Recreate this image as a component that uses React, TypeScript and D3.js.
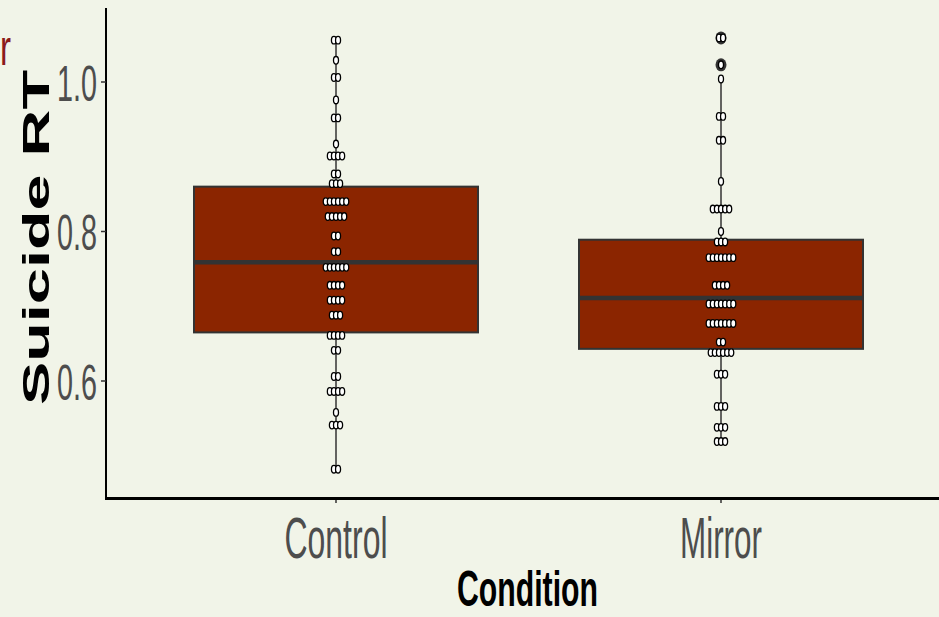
import React from "react";
import * as d3 from "d3";

const categories = ["Control", "Mirror"];
// dot rows: value and count
const controlRowValues = [1.056, 1.029, 1.006, 0.976, 0.952, 0.917, 0.901, 0.877, 0.864, 0.84, 0.82, 0.794, 0.773, 0.752, 0.728, 0.708, 0.688, 0.661, 0.641, 0.606, 0.586, 0.558, 0.541, 0.482];
const controlRowCounts = [2, 1, 2, 1, 2, 1, 4, 2, 3, 6, 5, 2, 2, 6, 4, 4, 3, 4, 2, 2, 4, 1, 3, 2];
const mirrorRowValues = [1.059, 1.023, 1.004, 0.954, 0.922, 0.867, 0.83, 0.8, 0.786, 0.765, 0.728, 0.703, 0.677, 0.652, 0.638, 0.609, 0.566, 0.538, 0.519];
const mirrorRowCounts = [2, 1, 1, 2, 2, 1, 5, 1, 3, 7, 4, 7, 7, 2, 6, 3, 3, 3, 3];
// box stats
const q1 = [0.665, 0.643];
const medians = [0.759, 0.711];
const q3 = [0.86, 0.789];
const whiskerLow = [0.482, 0.519];
const whiskerHigh = [1.056, 1.004];
const mirrorOutliers = [1.059, 1.023];
const yTicks = [0.6, 0.8, 1.0];

const W = 939;
const H = 617;
const left = 106;
const top = 8;
const bottom = 497;

export default function App() {
  const y = d3.scaleLinear().domain([0.4448, 1.099]).range([bottom, top]);
  const x = d3.scalePoint<string>().domain(categories).range([336, 721]);
  const boxW = 284;
  const rows = [
    { vals: controlRowValues, counts: controlRowCounts },
    { vals: mirrorRowValues, counts: mirrorRowCounts },
  ];
  const outliers = [[], mirrorOutliers];
  const spacing = 4.1;
  return (
    <svg width={W} height={H} style={{ display: "block", position: "absolute", left: 0, top: 0 }}>
      <rect x={0} y={0} width={W} height={H} fill="#f1f4e8" />
      {/* red clipped title fragment */}
      <text x={0} y={65} fontFamily="Liberation Sans, Arial, sans-serif" fontSize={50} fill="#8b1a1a" textLength={11} lengthAdjust="spacingAndGlyphs">r</text>
      {categories.map((c, i) => {
        const cx = x(c)!;
        return (
          <g key={c}>
            <line x1={cx} x2={cx} y1={y(whiskerLow[i])} y2={y(whiskerHigh[i])} stroke="#333" strokeWidth={1.5} />
            <rect x={cx - boxW / 2} y={y(q3[i])} width={boxW} height={y(q1[i]) - y(q3[i])} fill="#8b2500" stroke="#333" strokeWidth={2} />
            <line x1={cx - boxW / 2} x2={cx + boxW / 2} y1={y(medians[i])} y2={y(medians[i])} stroke="#333" strokeWidth={4.5} />
            {outliers[i].map((v, k) => (
              <ellipse key={k} cx={cx} cy={y(v)} rx={5.5} ry={6.5} fill="#333" />
            ))}
            {rows[i].vals.map((v, r) => {
              const n = rows[i].counts[r];
              return d3.range(n).map((k) => (
                <ellipse key={r + "-" + k} cx={cx + (k - (n - 1) / 2) * spacing} cy={y(v)} rx={2.5} ry={3.8} fill="#fff" stroke="#000" strokeWidth={1.3} />
              ));
            })}
            <line x1={cx} x2={cx} y1={bottom} y2={bottom + 6} stroke="#333" strokeWidth={1.5} />
            <text x={cx} y={558} fontFamily="Liberation Sans, Arial, sans-serif" fontSize={57} fill="#4d4d4d" textAnchor="middle" textLength={c === "Control" ? 103 : 82} lengthAdjust="spacingAndGlyphs">{c}</text>
          </g>
        );
      })}
      {/* axes */}
      <line x1={left} x2={left} y1={top} y2={bottom + 1.5} stroke="#000" strokeWidth={2} />
      <line x1={left - 1} x2={W} y1={bottom + 1.5} y2={bottom + 1.5} stroke="#000" strokeWidth={3} />
      {yTicks.map((t) => (
        <g key={t}>
          <line x1={left - 5} x2={left} y1={y(t)} y2={y(t)} stroke="#333" strokeWidth={1.5} />
          <text x={57} y={y(t) + 19} fontFamily="Liberation Sans, Arial, sans-serif" fontSize={50} fill="#4d4d4d" textLength={40} lengthAdjust="spacingAndGlyphs">{t.toFixed(1)}</text>
        </g>
      ))}
      <text x={457} y={606} fontFamily="Liberation Sans, Arial, sans-serif" fontWeight="bold" fontSize={50} fill="#000" textLength={141} lengthAdjust="spacingAndGlyphs">Condition</text>
      <text transform="translate(49,405) rotate(-90)" x={0} y={0} fontFamily="Liberation Sans, Arial, sans-serif" fontWeight="bold" fontSize={36} fill="#000" textLength={335} lengthAdjust="spacingAndGlyphs">Suicide RT</text>
    </svg>
  );
}
